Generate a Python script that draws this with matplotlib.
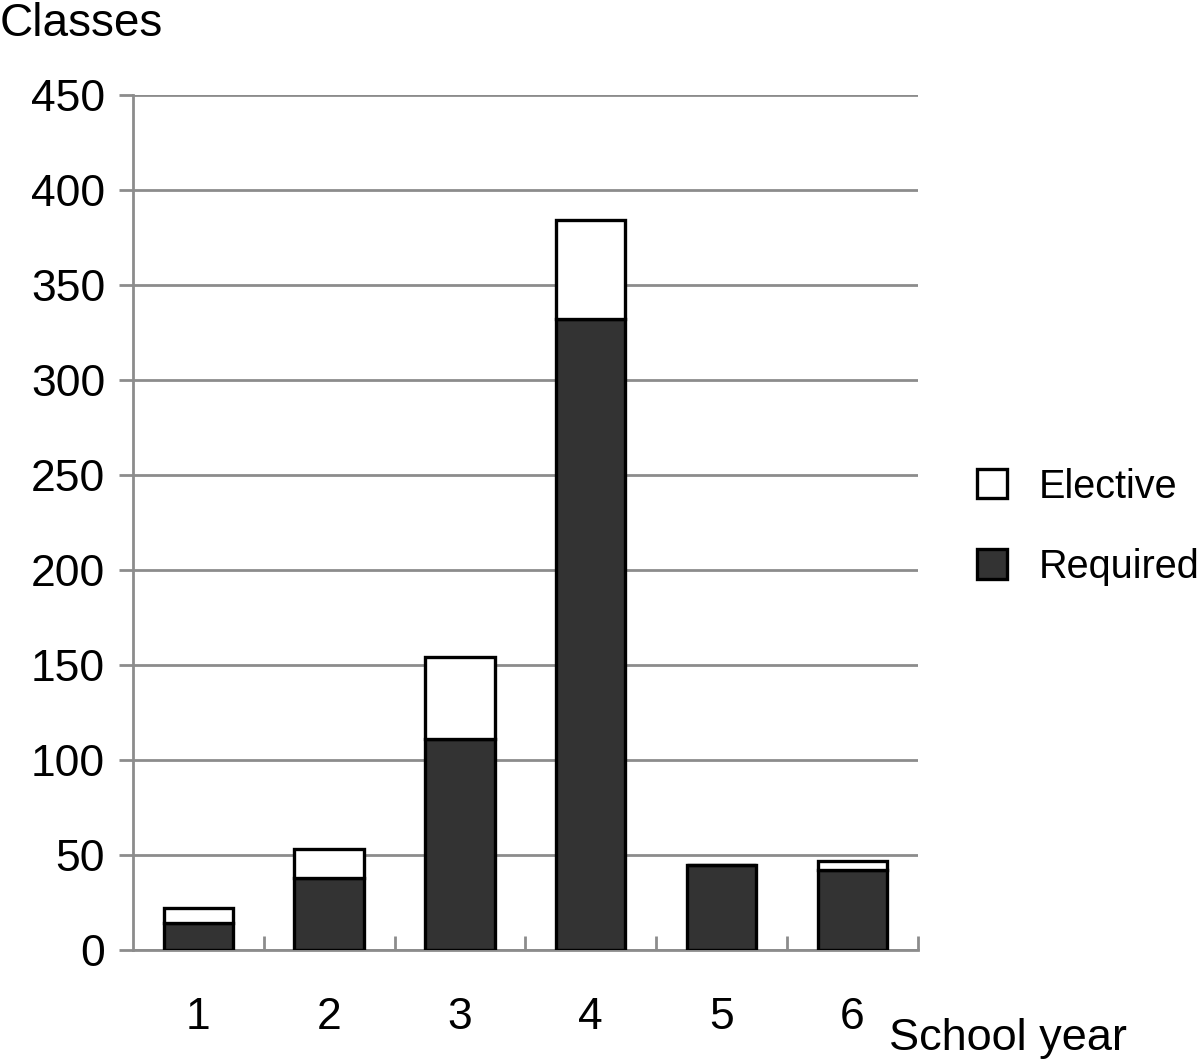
import numpy as np
import matplotlib
matplotlib.use('Agg')
import matplotlib.pyplot as plt
from matplotlib.patches import Patch

plt.rcParams['font.family'] = ['Liberation Sans', 'DejaVu Sans']

years = ['1', '2', '3', '4', '5', '6']
required = [14, 38, 111, 332, 45, 42]
elective = [8, 15, 43, 52, 0, 5]

GREY = '#8c8c8c'
DARK = '#333333'

fig = plt.figure(figsize=(12, 10.64), dpi=100)
ax = fig.add_axes([0.1108, 0.1071, 0.654, 0.8036])

x = np.arange(len(years))
ax.bar(x, required, width=0.53, color=DARK, edgecolor='black', linewidth=2.4, zorder=3, label='Required')
ax.bar(x, elective, width=0.53, bottom=required, color='white', edgecolor='black', linewidth=2.4, zorder=3,
       label='Elective')

ax.set_xlim(-0.5, len(years) - 0.5)
ax.set_ylim(0, 450)
ax.set_yticks(np.arange(0, 451, 50))
ax.yaxis.grid(True, color=GREY, linewidth=2, zorder=0)
ax.set_axisbelow(True)

for s in ['top', 'right']:
    ax.spines[s].set_visible(False)
for s in ['left', 'bottom']:
    ax.spines[s].set_color(GREY)
    ax.spines[s].set_linewidth(2)

ax.set_xticks(x)
ax.set_xticklabels(years)
ax.set_xticks(np.arange(0.5, len(years) - 0.5 + 1e-9, 1.0), minor=True)
ax.tick_params(axis='x', which='major', length=0, labelsize=32, pad=34)
ax.tick_params(axis='x', which='minor', direction='in', length=10, width=2, color=GREY)
ax.tick_params(axis='y', which='major', direction='out', length=10, width=2, color=GREY, labelsize=32, pad=10)

fig.text(0.0, 0.977, 'Classes', fontsize=33, ha='left', va='center')
fig.text(0.741, 0.024, 'School year', fontsize=32.5, ha='left', va='center')

handles = [Patch(facecolor='white', edgecolor='black', linewidth=2.4),
           Patch(facecolor=DARK, edgecolor='black', linewidth=2.4)]
fig.legend(handles, ['Elective', 'Required'], loc='center left', bbox_to_anchor=(0.814, 0.505),
           frameon=False, fontsize=28.5, handlelength=0.76, handleheight=0.76, handletextpad=0.8,
           labelspacing=1.07, borderpad=0, borderaxespad=0)

fig.savefig('out.png', dpi=100)
